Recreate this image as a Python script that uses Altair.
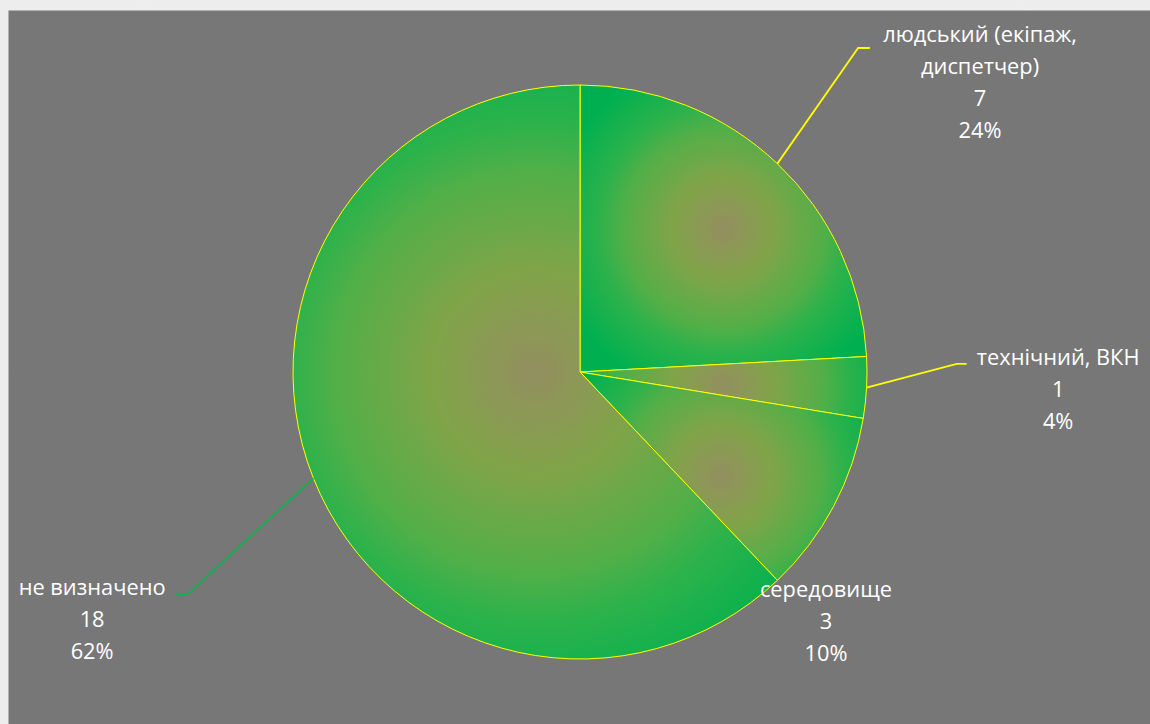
import math

import altair as alt
import pandas as pd

# --- data -------------------------------------------------------------------
categories = ["людський (екіпаж, диспетчер)", "технічний, ВКН", "середовище", "не визначено"]
label_titles = ["людський (екіпаж,\nдиспетчер)", "технічний, ВКН", "середовище", "не визначено"]
counts = [7, 1, 3, 18]
percent_labels = ["24%", "4%", "10%", "62%"]

# --- layout (pie-radius units, origin at pie centre, y pointing up) ----------
WIDTH, HEIGHT = 1142, 714          # grey plotting area
PAD_LEFT, PAD_TOP = 8, 10
CENTER_PX = (572, 362)             # pie centre inside the plotting area
RADIUS_PX = 287

label_pos = {
    "людський (екіпаж, диспетчер)": (1.394, 1.150),
    "технічний, ВКН": (1.666, 0.024),
    "середовище": (0.857, -0.784),
    "не визначено": (-1.700, -0.777),
}
# leader line: elbow point and end of the short horizontal tail
leader_pts = {
    "людський (екіпаж, диспетчер)": [(0.969, 1.129), (1.010, 1.129)],
    "технічний, ВКН": [(1.3125, 0.028), (1.347, 0.028)],
    "не визначено": [(-1.367, -0.775), (-1.408, -0.775)],
}
leader_colors = {
    "людський (екіпаж, диспетчер)": "#FFFF00",
    "технічний, ВКН": "#FFFF00",
    "не визначено": "#12B04E",
}

# --- derived tables -----------------------------------------------------------
total = sum(counts)
pie_df = pd.DataFrame({"category": categories, "count": counts, "idx": range(len(counts))})

text_df = pd.DataFrame({
    "category": categories,
    "label": [f"{t}\n{c}\n{p}" for t, c, p in zip(label_titles, counts, percent_labels)],
    "x": [label_pos[c][0] for c in categories],
    "y": [label_pos[c][1] for c in categories],
})

rows = []
cum = 0
for cat, cnt in zip(categories, counts):
    mid = 2 * math.pi * (cum + cnt / 2) / total
    cum += cnt
    if cat not in leader_pts:
        continue
    pts = [(math.sin(mid), math.cos(mid))] + leader_pts[cat]
    for k, (px, py) in enumerate(pts):
        rows.append({"category": cat, "k": k, "x": px, "y": py, "color": leader_colors[cat]})
leader_df = pd.DataFrame(rows)

# scales in radius units so that 1 unit == RADIUS_PX pixels
x_scale = alt.Scale(domain=[-CENTER_PX[0] / RADIUS_PX, (WIDTH - CENTER_PX[0]) / RADIUS_PX],
                    nice=False, zero=False)
y_scale = alt.Scale(domain=[-(HEIGHT - CENTER_PX[1]) / RADIUS_PX, CENTER_PX[1] / RADIUS_PX],
                    nice=False, zero=False)

# radial fill, centred on each slice's bounding box
slice_gradient = {
    "gradient": "radial",
    "x1": 0.5, "y1": 0.5, "r1": 0,
    "x2": 0.5, "y2": 0.5, "r2": 0.6,
    "stops": [
        {"offset": 0.0, "color": "#918F5F"},
        {"offset": 0.1, "color": "#8E9658"},
        {"offset": 0.3, "color": "#80A448"},
        {"offset": 0.58, "color": "#52AF48"},
        {"offset": 0.72, "color": "#2DB24B"},
        {"offset": 1.0, "color": "#00B050"},
    ],
}

center_x = alt.X(datum=0, type="quantitative", scale=x_scale, axis=None)
center_y = alt.Y(datum=0, type="quantitative", scale=y_scale, axis=None)

# soft drop shadow under the pie
shadow_df = pd.DataFrame({"r": [286, 288, 290, 292]})
shadow = alt.Chart(shadow_df).mark_arc(
    theta=0, theta2=2 * math.pi, fill="black", opacity=0.07, xOffset=2, yOffset=3
).encode(
    x=center_x, y=center_y, radius=alt.Radius("r:Q", scale=None)
)

pie = alt.Chart(pie_df).mark_arc(
    radius=RADIUS_PX, fill=slice_gradient, stroke="#FFFF00", strokeWidth=1
).encode(
    theta=alt.Theta("count:Q", stack=True),
    order=alt.Order("idx:Q"),
    x=center_x,
    y=center_y,
)

leaders = alt.Chart(leader_df).mark_line(strokeWidth=1.8).encode(
    x=alt.X("x:Q", scale=x_scale, axis=None),
    y=alt.Y("y:Q", scale=y_scale, axis=None),
    detail="category:N",
    order="k:Q",
    color=alt.Color("color:N", scale=None),
)

labels = alt.Chart(text_df).mark_text(
    align="center", baseline="alphabetic", lineBreak="\n", lineHeight=32,
    font="Open Sans", fontSize=21.8, color="white"
).encode(
    x=alt.X("x:Q", scale=x_scale, axis=None),
    y=alt.Y("y:Q", scale=y_scale, axis=None),
    text="label:N",
)

chart = alt.layer(shadow, pie, leaders, labels).properties(
    width=WIDTH,
    height=HEIGHT,
    autosize="none",
    padding={"left": PAD_LEFT, "top": PAD_TOP, "right": 0, "bottom": 0},
    background="white",
).configure_view(fill="#808080", stroke="transparent")

chart.save("out.html", embed_options={"renderer": "svg", "actions": False})
